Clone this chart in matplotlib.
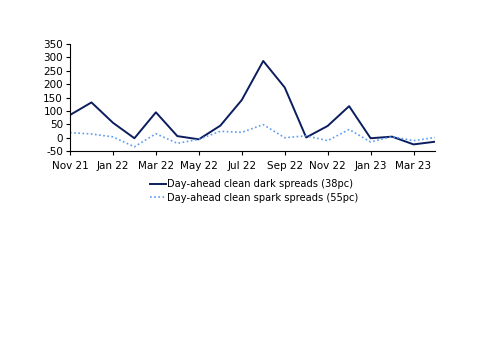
import matplotlib
matplotlib.use("Agg")
import matplotlib.pyplot as plt
import pandas as pd

plt.rcParams["axes.unicode_minus"] = False

months = pd.date_range("2021-11-01", "2023-04-01", freq="MS")
dark = [85, 132, 56, -2, 95, 6, -6, 45, 141, 287, 188, 1, 44, 118, -2, 4, -25, -15]
spark = [19, 14, 3, -34, 15, -21, -6, 24, 20, 49, 0, 7, -11, 31, -16, 4, -11, 1]
tick_labels = ["Nov 21", "Jan 22", "Mar 22", "May 22", "Jul 22", "Sep 22", "Nov 22", "Jan 23", "Mar 23"]
yticks = [-50, 0, 50, 100, 150, 200, 250, 300, 350]

fig = plt.figure(figsize=(5, 3.53), dpi=100)
ax = fig.add_axes([0.14, 0.572, 0.73, 0.303])
x = list(range(len(months)))
ax.plot(x, dark, color="#0b1d5e", lw=1.4, label="Day-ahead clean dark spreads (38pc)")
ax.plot(x, spark, color="#5b9cf2", lw=1.2, ls=(0, (1, 1.5)), label="Day-ahead clean spark spreads (55pc)")
ax.set_xlim(0, len(months) - 1)
ax.set_ylim(-50, 350)
ax.set_yticks(yticks)
ax.set_xticks(x[::2])
ax.set_xticklabels(tick_labels)
for s in ["top", "right"]:
    ax.spines[s].set_visible(False)
ax.spines["left"].set_linewidth(0.8)
ax.spines["bottom"].set_linewidth(0.8)
ax.tick_params(labelsize=7.5, length=3, width=0.8, color="black", pad=2)
ax.tick_params(axis="x", pad=4)
leg = ax.legend(loc="upper center", bbox_to_anchor=(0.505, -0.18), frameon=False, fontsize=7.1,
                handlelength=1.6, handletextpad=0.1, labelspacing=0.35)
fig.savefig("out.png", dpi=100)
